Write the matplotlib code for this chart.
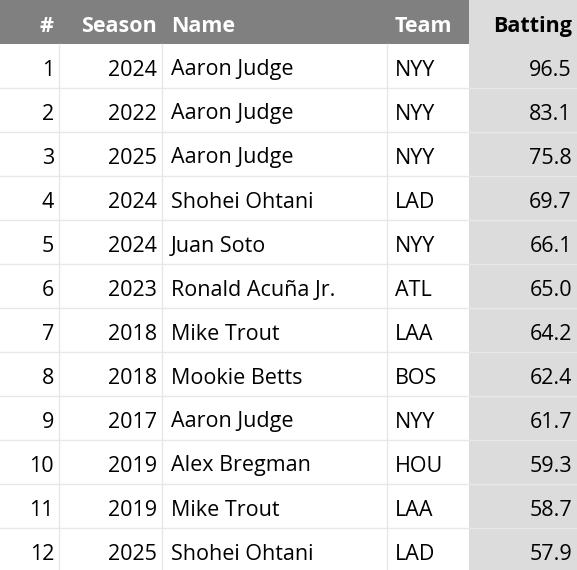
import matplotlib
matplotlib.use("Agg")
import matplotlib.pyplot as plt
from matplotlib.patches import Rectangle

ranks = list(range(1, 13))
seasons = [2024, 2022, 2025, 2024, 2024, 2023, 2018, 2018, 2017, 2019, 2019, 2025]
names = ["Aaron Judge", "Aaron Judge", "Aaron Judge", "Shohei Ohtani", "Juan Soto",
         "Ronald Acuña Jr.", "Mike Trout", "Mookie Betts", "Aaron Judge", "Alex Bregman",
         "Mike Trout", "Shohei Ohtani"]
teams = ["NYY", "NYY", "NYY", "LAD", "NYY", "ATL", "LAA", "BOS", "NYY", "HOU", "LAA", "LAD"]
batting = [96.5, 83.1, 75.8, 69.7, 66.1, 65.0, 64.2, 62.4, 61.7, 59.3, 58.7, 57.9]
headers = ["#", "Season", "Name", "Team", "Batting"]

W, H = 577, 570
fig = plt.figure(figsize=(W/100, H/100), dpi=100)
ax = fig.add_axes([0, 0, 1, 1])
ax.set_xlim(0, W); ax.set_ylim(H, 0); ax.axis("off")
plt.rcParams['font.family'] = ['Open Sans', 'DejaVu Sans']

hh = 43.5
rh = 44.0
bounds = [0, 59, 162, 387, 469, W]
ax.add_patch(Rectangle((0, 0), 469, hh, color="#808080", lw=0))
ax.add_patch(Rectangle((469, 0), W-469, hh, color="#dcdcdc", lw=0))
ax.add_patch(Rectangle((469, hh), W-469, H-hh, color="#dcdcdc", lw=0))
fs = 15.5
hx = [(54, "right"), (157, "right"), (171, "left"), (395, "left"), (572, "right")]
for (x, ha), t in zip(hx, headers):
    ax.text(x, hh/2+2, t, ha=ha, va="center_baseline", fontsize=fs, fontweight="bold",
            color="black" if t == "Batting" else "white")
for i in range(12):
    y0 = hh + i*rh
    yc = y0 + rh/2 + 2
    vals = [str(ranks[i]), str(seasons[i]), names[i], teams[i], f"{batting[i]:.1f}"]
    for (x, ha), v in zip(hx, vals):
        ax.text(x, yc, v, ha=ha, va="center_baseline", fontsize=fs, color="black")
    ax.plot([0, W], [y0 + rh, y0 + rh], color="#e8e8e8", lw=1)
for b in bounds[1:4]:
    ax.plot([b, b], [hh, H], color="#e8e8e8", lw=1)
fig.savefig("out.png", dpi=100)
